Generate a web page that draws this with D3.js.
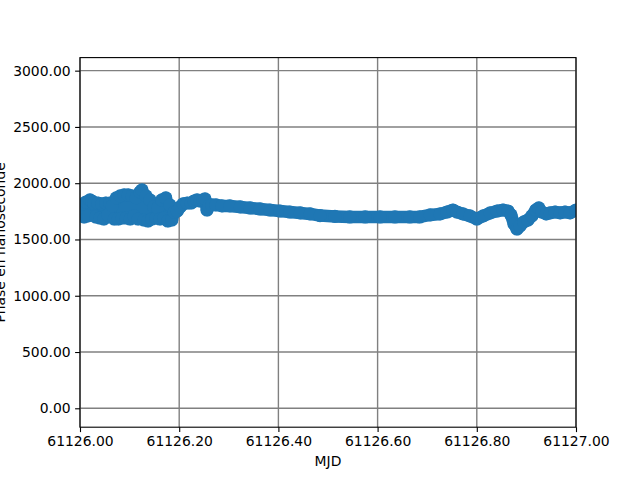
<!DOCTYPE html>
<html>
<head>
<meta charset="utf-8">
<script src="https://cdn.jsdelivr.net/npm/d3@7"></script>
<style>
  body { margin: 0; background: #fff; }
  text { font-family: "DejaVu Sans", sans-serif; }
</style>
</head>
<body>
<svg id="fig" width="640" height="480"></svg>
<script>
// MJD and phase (ns)
const mjd = [61126.000, 61126.004, 61126.008, 61126.012, 61126.016, 61126.020, 61126.024, 61126.028, 61126.032, 61126.036,
  61126.040, 61126.044, 61126.048, 61126.052, 61126.056, 61126.060, 61126.065, 61126.069, 61126.073, 61126.077,
  61126.081, 61126.085, 61126.089, 61126.093, 61126.097, 61126.101, 61126.105, 61126.109, 61126.113, 61126.117,
  61126.121, 61126.125, 61126.129, 61126.133, 61126.137, 61126.141, 61126.145, 61126.149, 61126.153, 61126.157,
  61126.161, 61126.165, 61126.169, 61126.173, 61126.177, 61126.181, 61126.185, 61126.190, 61126.196, 61126.202,
  61126.208, 61126.216, 61126.224, 61126.230, 61126.236, 61126.242, 61126.248, 61126.252, 61126.256, 61126.260,
  61126.266, 61126.274, 61126.286, 61126.302, 61126.323, 61126.343, 61126.363, 61126.383, 61126.403, 61126.423,
  61126.444, 61126.464, 61126.484, 61126.514, 61126.544, 61126.575, 61126.605, 61126.635, 61126.665, 61126.685,
  61126.706, 61126.726, 61126.740, 61126.752, 61126.760, 61126.772, 61126.786, 61126.800, 61126.813, 61126.827,
  61126.841, 61126.853, 61126.863, 61126.869, 61126.875, 61126.881, 61126.887, 61126.895, 61126.903, 61126.911,
  61126.919, 61126.925, 61126.931, 61126.940, 61126.948, 61126.958, 61126.968, 61126.978, 61126.988, 61127.000];
const phase = [1718, 1807, 1700, 1833, 1709, 1851, 1842, 1824, 1700, 1824,
  1691, 1816, 1682, 1824, 1718, 1824, 1798, 1682, 1869, 1682,
  1887, 1691, 1896, 1691, 1896, 1682, 1887, 1709, 1869, 1682,
  1922, 1940, 1673, 1887, 1664, 1851, 1682, 1789, 1691, 1780,
  1682, 1851, 1691, 1869, 1664, 1807, 1673, 1744, 1753, 1789,
  1816, 1824, 1824, 1842, 1851, 1842, 1851, 1860, 1762, 1798,
  1807, 1807, 1798, 1798, 1789, 1780, 1771, 1762, 1753, 1744,
  1736, 1727, 1712, 1705, 1700, 1700, 1700, 1700, 1700, 1700,
  1718, 1727, 1744, 1762, 1744, 1727, 1709, 1682, 1709, 1736,
  1753, 1762, 1753, 1718, 1638, 1593, 1620, 1656, 1673, 1709,
  1762, 1780, 1744, 1727, 1736, 1744, 1736, 1744, 1736, 1762];
const xTicks = [61126.0, 61126.2, 61126.4, 61126.6, 61126.8, 61127.0];
const yTicks = [0, 500, 1000, 1500, 2000, 2500, 3000];

const svg = d3.select('#fig');
const margin = { top: 57.6, right: 64, bottom: 52.8, left: 80 };
const W = 640 - margin.left - margin.right;
const H = 480 - margin.top - margin.bottom;

const x = d3.scaleLinear().domain([61126, 61127]).range([0, W]);
const y = d3.scaleLinear().domain([-168, 3116]).range([H, 0]);

const g = svg.append('g').attr('transform', `translate(${margin.left},${margin.top})`);

// grid
g.append('g').selectAll('line').data(xTicks).join('line')
  .attr('x1', d => x(d)).attr('x2', d => x(d)).attr('y1', 0).attr('y2', H)
  .attr('stroke', 'gray').attr('stroke-width', 1.4);
g.append('g').selectAll('line').data(yTicks).join('line')
  .attr('y1', d => y(d)).attr('y2', d => y(d)).attr('x1', 0).attr('x2', W)
  .attr('stroke', 'gray').attr('stroke-width', 1.4);

// data
const pts = mjd.map((m, i) => [m, phase[i]]);
g.append('clipPath').attr('id', 'clip').append('rect').attr('width', W).attr('height', H);
const plot = g.append('g').attr('clip-path', 'url(#clip)');
plot.append('path').datum(pts)
  .attr('d', d3.line().x(d => x(d[0])).y(d => y(d[1])))
  .attr('fill', 'none').attr('stroke', '#1f77b4').attr('stroke-width', 12.5)
  .attr('stroke-linejoin', 'round').attr('stroke-linecap', 'round');
plot.selectAll('circle').data(pts).join('circle')
  .attr('cx', d => x(d[0])).attr('cy', d => y(d[1])).attr('r', 6.6)
  .attr('fill', '#1f77b4');

// axes
const xAxis = g.append('g').attr('transform', `translate(0,${H})`)
  .call(d3.axisBottom(x).tickValues(xTicks).tickFormat(d3.format('.2f')).tickSize(4.9).tickPadding(4.5));
const yAxis = g.append('g')
  .call(d3.axisLeft(y).tickValues(yTicks).tickFormat(d3.format('.2f')).tickSize(4.9).tickPadding(4.5));
[xAxis, yAxis].forEach(a => {
  a.select('.domain').remove();
  a.selectAll('line').attr('stroke', '#000').attr('stroke-width', 1.1);
  a.selectAll('text').attr('font-size', '13.9px').attr('fill', '#000').attr('font-family', 'DejaVu Sans');
});

g.append('rect').attr('width', W).attr('height', H)
  .attr('fill', 'none').attr('stroke', '#000').attr('stroke-width', 1.1);

svg.append('text').attr('x', margin.left + W / 2).attr('y', 466)
  .attr('text-anchor', 'middle').attr('font-size', '13.9px').text('MJD');
// label sits partly past the left edge, as in the reference
svg.append('text').attr('transform', `translate(5,${margin.top + H / 2}) rotate(-90)`)
  .attr('text-anchor', 'middle').attr('font-size', '13.9px').text('Phase en nanoseconde');
</script>
</body>
</html>
